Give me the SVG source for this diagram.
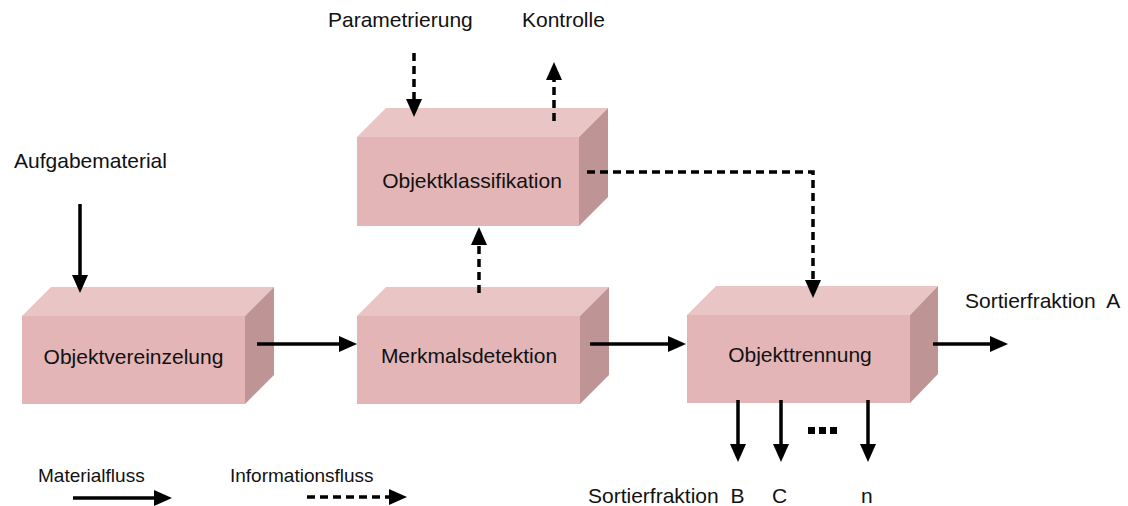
<svg xmlns="http://www.w3.org/2000/svg" width="1128" height="506" viewBox="0 0 1128 506">
<style>
text{font-family:"Liberation Sans",Arial,sans-serif;fill:#111;white-space:pre;}
.lbl{font-size:21px;}
.leg{font-size:19px;}
.front{fill:#e3b5b6;}
.top{fill:#e9c5c5;}
.side{fill:#bf9495;}
.solid{stroke:#000;stroke-width:3.5;fill:none;marker-end:url(#ah);}
.dash{stroke:#000;stroke-width:3.5;fill:none;stroke-dasharray:8 5;marker-end:url(#ah);}
</style>
<defs>
<marker id="ah" markerUnits="userSpaceOnUse" markerWidth="18" markerHeight="16" refX="0" refY="8" orient="auto" overflow="visible">
<path d="M0,0 L18,8 L0,16 z" fill="#000"/>
</marker>
</defs>
<rect width="1128" height="506" fill="#fff"/>

<g id="objektvereinzelung">
<polygon class="top" points="22,316 51,287 274,287 245,316"/>
<polygon class="side" points="245,316 274,287 274,375 245,404"/>
<rect class="front" x="22" y="316" width="223" height="88"/>
<text class="lbl" x="133.5" y="364" text-anchor="middle">Objektvereinzelung</text>
</g>

<g id="merkmalsdetektion">
<polygon class="top" points="357,316 386,287 609,287 580,316"/>
<polygon class="side" points="580,316 609,287 609,375 580,404"/>
<rect class="front" x="357" y="316" width="223" height="88"/>
<text class="lbl" x="469" y="363" text-anchor="middle">Merkmalsdetektion</text>
</g>

<g id="objektklassifikation">
<polygon class="top" points="357,137 386,108 608,108 579,137"/>
<polygon class="side" points="579,137 608,108 608,197 579,226"/>
<rect class="front" x="357" y="137" width="222" height="89"/>
<text class="lbl" x="472" y="188" text-anchor="middle">Objektklassifikation</text>
</g>

<g id="objekttrennung">
<polygon class="top" points="687,315 716,286 938,286 910,315"/>
<polygon class="side" points="910,315 938,286 938,374 910,403"/>
<rect class="front" x="687" y="315" width="223" height="88"/>
<text class="lbl" x="800" y="362" text-anchor="middle">Objekttrennung</text>
</g>

<g id="labels">
<text class="lbl" x="14" y="168">Aufgabematerial</text>
<text class="lbl" x="328" y="27">Parametrierung</text>
<text class="lbl" x="522" y="27">Kontrolle</text>
<text class="lbl" x="965" y="308" xml:space="preserve">Sortierfraktion  A</text>
<text class="lbl" x="588" y="503" xml:space="preserve">Sortierfraktion  B</text>
<text class="lbl" x="772" y="503">C</text>
<text class="lbl" x="861" y="503">n</text>
<text class="leg" x="38" y="482">Materialfluss</text>
<text class="leg" x="230" y="482">Informationsfluss</text>
</g>

<g id="dots" fill="#000">
<rect x="808" y="427" width="7" height="7"/>
<rect x="819" y="427" width="7" height="7"/>
<rect x="830" y="427" width="7" height="7"/>
</g>

<g id="connectors">
<line class="solid" x1="80" y1="204" x2="80" y2="275"/>
<line class="solid" x1="257" y1="344" x2="339" y2="344"/>
<line class="solid" x1="590" y1="344" x2="668" y2="344"/>
<line class="solid" x1="933" y1="344" x2="990" y2="344"/>
<line class="solid" x1="738" y1="400" x2="738" y2="444"/>
<line class="solid" x1="781" y1="400" x2="781" y2="444"/>
<line class="solid" x1="868" y1="400" x2="868" y2="444"/>
<line class="dash" x1="479" y1="293" x2="479" y2="245"/>
<path class="dash" d="M587,172 H813 V280"/>
<line class="dash" x1="414" y1="53" x2="414" y2="99"/>
<line class="dash" x1="554" y1="121" x2="554" y2="80"/>
<line class="solid" x1="73" y1="498" x2="154" y2="498"/>
<line class="dash" x1="307" y1="497" x2="389" y2="497"/>
</g>
</svg>
